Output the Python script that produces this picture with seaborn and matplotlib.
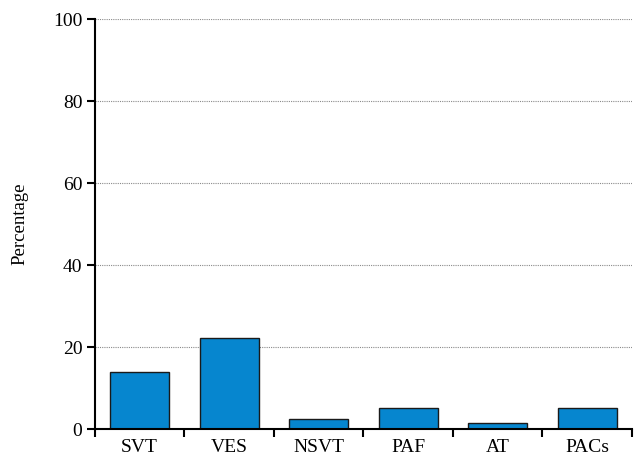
import matplotlib
matplotlib.use("Agg")
import matplotlib.pyplot as plt
import seaborn as sns
import numpy as np

# data
categories = ["SVT", "VES", "NSVT", "PAF", "AT", "PACs"]
percentages = [13.9, 22.2, 2.5, 5.1, 1.5, 5.1]

sns.set_style("white")
plt.rcParams['font.family'] = ['Liberation Serif', 'DejaVu Serif']
plt.rcParams['text.color'] = 'black'
plt.rcParams['axes.labelcolor'] = 'black'
plt.rcParams['xtick.color'] = 'black'
plt.rcParams['ytick.color'] = 'black'

fig = plt.figure(figsize=(6.37, 4.57), dpi=100)
ax = fig.add_axes([0.149, 0.061, 0.843, 0.897])

sns.barplot(x=categories, y=percentages, color="#0686cf", saturation=1,
            width=0.66, edgecolor="#1a1a1a", linewidth=1.0, ax=ax)

ax.set_ylim(0, 100)
ax.set_xlim(-0.5, len(categories) - 0.5)
ax.set_yticks(np.arange(0, 101, 20))
ax.yaxis.grid(True, linestyle=(0, (1, 1)), color="#8a8a8a", linewidth=0.8)
ax.set_axisbelow(True)

# x ticks sit on the category boundaries
ax.set_xticks(np.arange(-0.5, len(categories), 1), minor=True)
ax.tick_params(axis="x", which="minor", bottom=True, length=6, width=1.5,
               color="black", direction="out")
ax.tick_params(axis="x", which="major", bottom=False, length=0, labelsize=14, pad=7)
ax.tick_params(axis="y", length=6, width=1.5, color="black", labelsize=14, pad=3, left=True)

for side in ["top", "right"]:
    ax.spines[side].set_visible(False)
for side in ["left", "bottom"]:
    ax.spines[side].set_color("black")
    ax.spines[side].set_linewidth(1.5)

ax.set_ylabel("Percentage", fontsize=13.5, labelpad=18)
ax.set_xlabel("")

fig.savefig("out.png", dpi=100)
